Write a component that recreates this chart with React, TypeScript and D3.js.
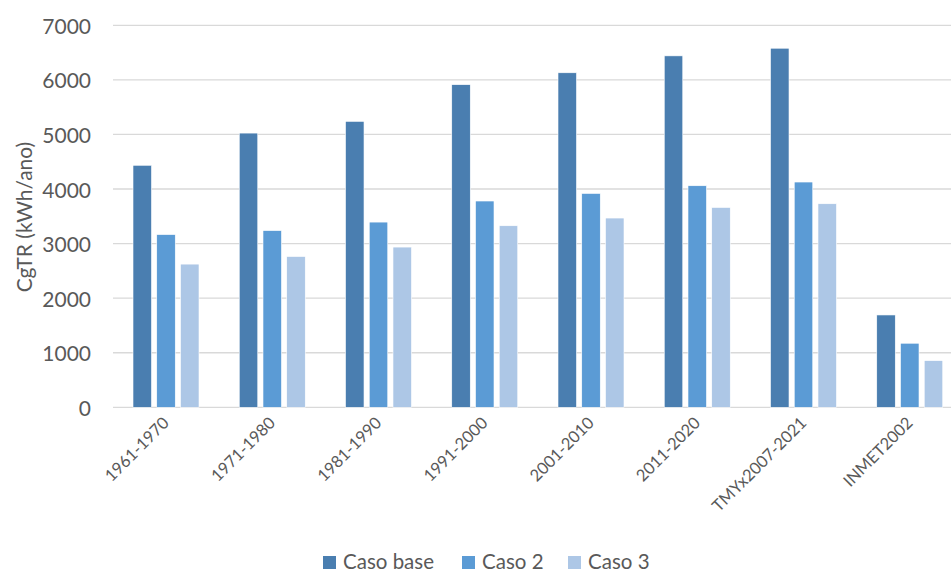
import React from "react";
import * as d3 from "d3";

const categories = ["1961-1970", "1971-1980", "1981-1990", "1991-2000", "2001-2010", "2011-2020", "TMYx2007-2021", "INMET2002"];
const seriesNames = ["Caso base", "Caso 2", "Caso 3"];
const casoBase = [4435, 5025, 5240, 5912, 6130, 6440, 6580, 1692];
const caso2 = [3165, 3238, 3394, 3780, 3919, 4060, 4128, 1174];
const caso3 = [2624, 2763, 2936, 3327, 3468, 3662, 3730, 855];
const yTicks = [0, 1000, 2000, 3000, 4000, 5000, 6000, 7000];
const colors = ["#4a7eb0", "#5b9bd5", "#adc7e6"];

const W = 951;
const H = 573;
const FONT = "Lato, 'Open Sans', sans-serif";

export default function App() {
  const series = [casoBase, caso2, caso3];
  const x0 = d3.scaleBand<string>().domain(categories).range([113, 963]).paddingInner(0).paddingOuter(0);
  const x1 = d3.scaleBand<string>().domain(seriesNames).range([20, 86]).paddingInner(0.22).paddingOuter(0);
  const y = d3.scaleLinear().domain([0, 7000]).range([407.3, 25.3]);

  const legendX = [323, 462, 568];

  return (
    <svg width={W} height={H} style={{ position: "absolute", left: 0, top: 0, background: "#fff" }} fontFamily={FONT}>
      <rect x={0} y={0} width={W} height={H} fill="#fff" />
      {yTicks.map((t) => (
        <g key={t}>
          <line x1={113} x2={W} y1={y(t)} y2={y(t)} stroke="#d9d9d9" strokeWidth={1.3} />
          <text x={91} y={y(t)} textAnchor="end" dominantBaseline="central" fontSize={21} fill="#595959">
            {t}
          </text>
        </g>
      ))}
      {categories.map((c, i) => (
        <g key={c} transform={`translate(${x0(c)},0)`}>
          {series.map((s, j) => (
            <rect
              key={j}
              x={x1(seriesNames[j])}
              y={y(s[i])}
              width={x1.bandwidth()}
              height={y(0) - y(s[i])}
              fill={colors[j]}
              stroke="#ffffff"
              strokeWidth={0.6}
            />
          ))}
        </g>
      ))}
      {categories.map((c) => {
        const cx = (x0(c) as number) + x0.bandwidth() / 2 + 4;
        const cy = 424;
        return (
          <text
            key={c}
            x={cx}
            y={cy}
            textAnchor="end"
            fontSize={16.5}
            fill="#595959"
            transform={`rotate(-45 ${cx} ${cy})`}
          >
            {c}
          </text>
        );
      })}
      <text
        x={23}
        y={217}
        textAnchor="middle"
        dominantBaseline="central"
        fontSize={21}
        fill="#595959"
        transform="rotate(-90 23 217)"
      >
        CgTR (kWh/ano)
      </text>
      {seriesNames.map((n, j) => (
        <g key={n}>
          <rect x={legendX[j]} y={556} width={13} height={13} fill={colors[j]} />
          <text x={legendX[j] + 20} y={569} fontSize={20.5} fill="#595959">
            {n}
          </text>
        </g>
      ))}
    </svg>
  );
}
